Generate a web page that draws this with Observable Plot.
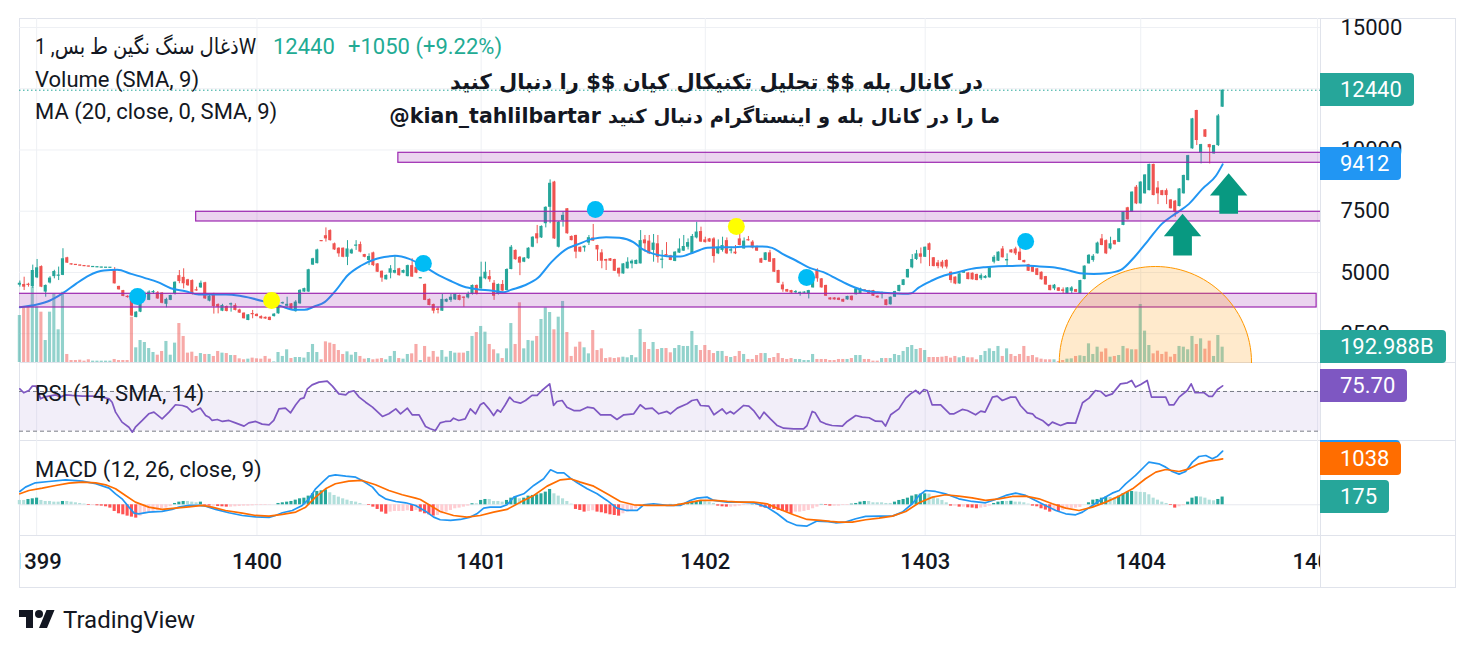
<!DOCTYPE html>
<html><head><meta charset="utf-8">
<script src="https://cdn.jsdelivr.net/npm/d3@7"></script>
<script src="https://cdn.jsdelivr.net/npm/@observablehq/plot@0.6"></script>
<style>
body{margin:0;background:#fff;}
#root{position:relative;width:1474px;height:653px;overflow:hidden;font-family:Roboto,"DejaVu Sans",sans-serif;color:#131722;}
.lbl{position:absolute;font-size:22px;line-height:26px;white-space:nowrap;}
.g{color:#22ab94;}
.badge{position:absolute;left:1320px;height:33px;line-height:33px;color:#fff;font-size:22px;padding:0 12px 0 20px;border-radius:0 4px 4px 0;overflow:hidden;}
.line{position:absolute;background:#e0e3eb;}
.note{position:absolute;font-family:"DejaVu Sans",sans-serif;font-weight:bold;font-size:21px;line-height:26px;white-space:nowrap;color:#131722;}
</style></head>
<body><div id="root"></div>
<script>
// ---------------- DATA ----------------
const ticker = "ذغال سنگ نگین ط بس, 1W";
// weekly candles [open, high, low, close]
const ohlc = [
[4480,4650,4400,4560],[4510,4807,4263,4400],[4520,4560,4400,4470],[4420,5300,4350,5080],[4780,5530,4750,5190],[5240,5270,4380,4400],[4200,4490,3990,4470],[4570,4830,4530,4770],[4830,5090,4740,5040],[4850,5220,4670,4890],
[4880,5970,4870,5560],[5600,5620,5370,5380],[5340,5345,5300,5320],[5315,5320,5285,5300],[5295,5300,5260,5270],[5270,5275,5240,5250],[5250,5255,5225,5235],[5215,5240,5210,5230],[5205,5225,5200,5220],[5195,5210,5190,5205],
[5190,5200,5185,5198],[5188,5198,5185,5195],[5110,5200,4530,4535],[4430,4440,4280,4290],[4260,4270,4010,4020],[4020,4050,3950,3980],[3990,4130,3200,3220],[3160,3400,3150,3380],[3380,3850,3360,3790],[4000,4200,3990,4100],
[3860,4250,3850,4200],[4180,4260,4100,4210],[4170,4220,3900,3920],[4160,4180,3720,3740],[3700,3950,3560,3900],[3860,4070,3850,4060],[4130,4620,4080,4600],[4870,5080,4540,4630],[4800,5150,4330,4540],[4700,4720,4430,4460],
[4670,4700,4080,4100],[4290,4400,4230,4250],[4370,4650,4350,4560],[4580,4600,3900,3920],[3830,4080,3800,4030],[4130,4150,3300,3610],[3690,3720,3310,3580],[3420,3700,3400,3650],[3610,3630,3390,3410],[3680,3750,3380,3720],
[3650,3720,3430,3450],[3470,3500,3330,3340],[3340,3350,3100,3110],[3040,3280,3030,3270],[3320,3450,3110,3280],[3290,3310,3190,3200],[3200,3230,3090,3110],[3170,3180,3090,3100],[3170,3180,3030,3040],[3200,3320,3180,3300],
[3310,3620,3300,3600],[3720,3790,3700,3770],[3620,3990,3580,3700],[3720,3730,3470,3480],[3400,3850,3380,3790],[3720,4300,3700,4270],[4200,4360,4190,4340],[4200,5130,4190,5110],[5300,5580,5290,5560],[5360,5950,5350,5920],
[6290,6300,6260,6270],[6500,6820,6240,6370],[6710,6740,6280,6300],[6170,6200,5900,5920],[5990,6010,5620,5760],[5990,6000,5600,5620],[5620,6300,5280,5960],[5760,5960,5740,5920],[6080,6300,5900,6110],[6140,6240,5800,5830],
[5730,5740,5600,5620],[5490,5760,5280,5650],[5800,5830,5240,5280],[5350,5360,5000,5010],[5050,5060,4600,4770],[4700,4900,4690,4880],[4970,5280,4740,5150],[4970,5650,4940,5080],[5150,5170,4850,4870],[4970,5100,4950,5080],
[4830,5300,4820,5280],[5280,5560,4800,4810],[5210,5230,4950,4970],[4750,4790,4740,4780],[4510,4530,3850,3860],[3900,3920,3640,3650],[3690,3710,3310,3420],[3510,3580,3310,3450],[3420,4100,3410,3900],[3790,3920,3770,3900],
[3860,4100,3780,3990],[3880,4120,3860,4100],[4060,4080,3840,3860],[3990,4000,3580,3950],[3960,4200,3920,4100],[4100,4490,4080,4470],[4470,4490,4080,4100],[4330,5420,4320,4810],[4740,5420,4700,5010],[4830,5080,4600,4700],
[4560,4670,3860,4030],[4100,4530,4080,4510],[4510,4670,4230,4240],[4260,5150,4250,5120],[5120,6100,5110,6030],[5900,5920,5500,5520],[5620,5650,4870,5380],[5420,5610,5400,5590],[5560,6010,5540,5990],[6030,6460,6010,6440],
[6580,6920,6170,6370],[6410,6900,6390,6880],[6990,7680,6820,7660],[7660,8780,6990,8640],[8690,8720,6350,6370],[6030,7080,6000,7050],[7120,7460,6850,7330],[7600,7610,6560,6580],[6470,6490,6290,6300],[6510,6520,5560,5830],
[6030,6040,5810,5830],[6000,6080,5830,6070],[6200,6510,6100,6420],[6410,6960,6270,6280],[6100,6110,5450,5920],[5800,5930,5150,5460],[5530,5540,5080,5460],[5560,5570,5450,5460],[5530,5540,5040,5050],[5170,5180,4810,4940],
[4940,5360,4930,5350],[5150,5600,5140,5420],[5350,5510,5150,5460],[5330,5510,5320,5490],[5350,6710,5350,6300],[6330,6510,5830,6170],[6280,6510,5730,5760],[5900,6550,5420,6200],[6170,6510,5380,5620],[5500,5900,5150,5540],
[5720,6220,5650,5690],[5680,5700,5480,5490],[5450,5850,5440,5830],[5790,6370,5780,5960],[5870,6510,5860,6060],[6030,6370,5920,6220],[5760,6550,5750,6470],[6410,7050,6370,6650],[6670,6850,6220,6240],[6330,6440,6200,6220],
[6370,6390,6230,6240],[6370,6420,5380,5650],[5760,6330,5730,6030],[5900,6440,5830,6100],[6300,6410,5730,5760],[5870,6030,5760,5930],[5830,6100,5730,5760],[6370,6580,6090,6100],[5960,6410,5950,6280],[6330,6470,6280,6300],
[6240,6300,5960,6000],[6060,6080,5860,5870],[5560,5580,5370,5380],[5490,5810,5480,5800],[5800,5900,5410,5420],[5560,5570,5000,5010],[5080,5090,4550,4560],[4490,4600,4190,4290],[4300,4310,4190,4200],[4260,4270,4150,4160],
[4180,4260,4130,4210],[4150,4200,4030,4180],[4160,4210,4140,4190],[4130,4270,3920,4260],[4370,4760,4360,4740],[5080,5150,4600,4740],[4740,4750,4360,4370],[4470,4480,4020,4030],[3960,3970,3870,3880],[3960,3970,3870,3880],
[3950,3960,3850,3860],[3900,3910,3780,3790],[3880,4030,3870,4020],[4030,4040,3830,3860],[4090,4350,4080,4330],[4130,4360,4110,4330],[4290,4300,4230,4240],[4260,4270,4120,4130],[4260,4270,4020,4030],[4030,4040,3950,3960],
[4100,4200,3920,4140],[3880,3890,3640,3650],[3680,4000,3670,3990],[3990,4230,3980,4220],[4220,4480,4210,4470],[4470,4710,4460,4700],[4780,5130,4770,5120],[5190,5730,5150,5530],[5530,5900,5490,5760],[5760,6000,5350,5620],
[5620,6040,5610,6030],[6170,6200,5240,5900],[5600,5610,5230,5240],[5390,5490,5150,5240],[5420,5490,5150,5220],[5490,5520,5140,5220],[5010,5020,4560,4670],[4810,4820,4500,4530],[4530,4950,4520,4940],[4970,5060,4960,5040],
[4980,4990,4700,4710],[4970,4980,4690,4700],[4920,4930,4660,4670],[4740,4940,4670,4870],[4760,4870,4740,4840],[4780,5200,4770,5190],[5420,5690,5350,5620],[5460,5840,5450,5830],[5960,6060,5590,5600],[5470,5760,5280,5530],
[5920,5930,5790,5800],[5960,6030,5690,5760],[5830,6060,5480,5490],[5490,5500,5390,5400],[5320,5330,5040,5050],[5220,5230,5000,5010],[5150,5160,4870,4880],[5010,5020,4690,4700],[4830,4840,4480,4490],[4470,4480,4250,4260],
[4330,4510,4260,4480],[4370,4380,4220,4230],[4290,4370,4130,4230],[4130,4380,4120,4370],[4230,4420,4130,4370],[4300,4310,4180,4190],[4130,4680,4120,4670],[4710,5270,4700,5260],[5350,5730,5340,5700],[5490,5730,5420,5660],
[5760,6240,5750,6200],[6370,6550,6090,6100],[6300,6330,5730,5760],[5960,6440,5920,6170],[6300,6310,6120,6130],[6230,6790,6220,6780],[6920,7470,6910,7460],[7640,7660,7140,7150],[7460,8290,7450,8280],[8480,8550,7770,7800],
[7800,8700,7790,8690],[8210,8990,8200,8980],[8340,9420,8330,9410],[9410,9420,8130,8140],[8450,8710,7770,8210],[8340,8350,8130,8140],[8340,8410,7770,8140],[7960,7970,7590,7600],[7910,7940,7250,7460],[7690,8420,7680,8410],
[8210,8970,8200,8960],[8750,9780,8740,9770],[10046,11290,10030,11271],[11611,11620,10180,10386],[9870,10230,9430,10220],[10822,10830,10510,10522],[10220,10230,9430,10090],[9840,10190,9830,10180],[10180,11450,10140,11390],[11747,12450,11740,12440]
];
// weekly volume, billions
const volume = [
592,697,697,949,697,634,277,634,865,412, 886,101,25,25,29,17,34,17,17,17, 17,17,38,25,25,25,571,185,277,252,
176,126,92,139,265,92,244,491,328,118, 130,76,113,101,101,76,139,118,113,88, 88,46,34,42,55,46,42,76,42,8,
126,76,160,50,63,63,55,126,227,126, 34,260,244,227,151,101,134,92,126,76, 42,50,34,42,50,34,76,139,50,42,
101,109,227,25,202,67,139,67,151,67, 139,118,118,118,139,328,378,454,382,227, 160,109,50,172,491,227,752,172,277,269,
328,542,689,630,412,571,769,378,76,193, 256,185,109,403,151,172,50,59,50,59, 67,59,88,59,416,252,164,252,164,176,
176,122,176,214,202,202,391,214,151,214, 151,113,139,139,76,63,76,139,101,38, 38,88,113,113,50,63,113,50,38,50,
38,38,25,25,101,38,38,38,25,25, 38,38,38,50,88,88,38,38,17,17, 50,50,50,101,88,139,189,214,164,176,
151,63,63,63,67,76,55,76,59,76, 59,59,34,88,139,172,139,202,76,172, 101,76,101,202,76,88,59,42,34,34,
34,13,25,42,46,76,84,76,235,101, 193,130,172,67,76,88,202,172,160,160, 731,395,214,109,143,101,130,67,101,202,
193,160,328,227,298,168,269,76,340,192.988
];
// MACD histogram per week
const hist = [
98,98,120,135,150,98,75,75,60,60, 75,75,60,45,30,15,-15,-15,-23,-30, -45,-75,-150,-203,-226,-256,-278,-301,-256,-203,
-165,-150,-128,-90,-75,-40,30,60,75,75, 60,45,60,-15,-30,-30,-38,-45,-53,-53, -45,-38,-30,-30,-23,-15,-15,-15,-8,0,
30,45,60,75,105,135,150,196,248,301, 316,338,271,211,173,135,105,75,60,30, 0,-15,-53,-105,-165,-211,-165,-150,-150,-150,
-135,-150,-128,-165,-203,-226,-256,-241,-203,-165, -128,-90,-75,-53,-30,23,23,98,120,120, 75,75,60,98,150,173,135,150,196,211,
226,248,286,346,248,196,135,75,15,-105, -128,-165,-150,-135,-165,-180,-203,-226,-241,-256, -203,-165,-128,-90,-53,-8,8,8,0,-8,
-8,8,8,15,23,30,60,75,98,75, 60,30,-30,-45,-53,-53,-45,-30,-15,-8, 8,-8,-53,-75,-90,-105,-128,-150,-165,-203,
-165,-165,-150,-128,-90,-53,8,-15,-30,-30, -30,-15,-15,15,30,60,75,75,45,45, 45,30,30,60,98,120,150,196,226,241,
248,241,173,135,98,45,-30,-30,-53,-53, -68,-75,-90,-75,-60,-30,30,60,75,75, 80,60,60,45,15,-30,-45,-90,-120,-165,
-135,-150,-128,-105,-90,-75,-60,0,45,105, 120,150,173,165,150,196,248,286,301,290, 280,275,226,150,105,60,30,-15,-75,-45,
-20,60,150,180,175,150,105,90,120,175
];
// MA (20, close, SMA 9) [week, value]
const maPts = [[0,3582],[4,3691],[7,3855],[10,4154],[13,4535],[16,4875],[19.5,5080],[22.6,5107],[25.8,4943],[28.9,4780],[32,4603],[35,4358],[38.4,4236],[41.5,4099],[44.7,4099],[47.8,4099],[51,4045],[54,3936],[57.3,3787],[60.4,3637],[63.6,3474],[66,3474],[68.3,3610],[70.7,3787],[73.4,4290],[76,4875],[79.2,5284],[82.4,5542],[85.5,5651],[87,5678],[90.3,5556],[93.4,5284],[96.6,4943],[99.7,4671],[102.9,4426],[106,4317],[109.2,4263],[112.3,4195],[113.9,4290],[117,4467],[120.2,4780],[123.3,5420],[126.5,5923],[129.7,6168],[132.8,6372],[136,6440],[139.1,6413],[142.3,6236],[144.3,5964],[147,5760],[150.1,5665],[153.2,5651],[156.4,5828],[159.5,6005],[162.7,6032],[165.9,6032],[169,6059],[172.2,6059],[174.5,6005],[176.9,5760],[180,5488],[183.2,5188],[186.4,5011],[189.5,4739],[192.6,4467],[195.8,4263],[199,4195],[202.1,4154],[205.3,4127],[206.8,4154],[208.4,4372],[211.6,4671],[214.4,4874],[217.6,5010],[220.7,5146],[223.9,5215],[227,5255],[230.2,5269],[233.3,5282],[236.5,5242],[239.6,5215],[242.8,5106],[245.9,4970],[249.1,4942],[252.2,4970],[255.4,5106],[258.5,5623],[261.7,6303],[264.9,6984],[268,7392],[271.2,7800],[274.3,8413],[277.5,8957],[279,9412]];
// RSI (14, SMA 14) [week, value]
const rsiPts = [[0,72.7],[0.9,68.7],[2.1,71.0],[2.9,75.4],[3.8,75.4],[4.8,62.6],[5.6,64.3],[6.7,65.3],[8.3,66.6],[9.4,64.3],[10.6,66.6],[12.1,66.0],[14.5,65.3],[16.8,65.3],[19.1,64.3],[20.7,62.6],[21.4,59.2],[22.2,49.2],[23.7,39.1],[25.3,34.0],[26.1,29.0],[26.8,34.0],[28.4,40.8],[29.9,47.5],[31.1,49.2],[33.0,42.4],[34.6,49.2],[36.1,56.6],[37.7,55.9],[38.8,54.2],[40.0,49.2],[41.1,51.9],[41.9,53.2],[43.1,45.8],[43.9,44.1],[44.6,40.8],[45.8,41.8],[47.0,39.8],[48.5,40.8],[50.0,38.4],[52.0,35.1],[53.1,38.4],[54.7,39.8],[56.2,37.1],[57.8,36.4],[58.9,40.8],[60.1,52.5],[61.6,53.2],[62.8,48.5],[64.0,56.6],[65.1,62.6],[65.9,63.6],[66.7,72.7],[67.8,76.7],[69.4,79.4],[71.3,80.4],[72.5,75.4],[74.0,67.6],[75.6,66.6],[76.3,69.3],[77.5,70.7],[78.7,64.3],[80.2,59.2],[81.8,54.2],[84.1,44.8],[85.6,47.5],[87.2,52.5],[88.3,47.5],[89.9,53.2],[91.0,46.5],[92.6,46.5],[94.1,34.7],[95.2,32.4],[96.4,30.7],[97.5,38.4],[98.7,39.8],[99.9,40.1],[100.6,43.1],[101.8,40.8],[103.3,42.4],[104.5,52.5],[105.7,47.5],[106.8,56.6],[107.6,58.6],[108.8,52.5],[109.9,45.8],[110.8,51.5],[111.5,49.2],[112.6,56.6],[113.6,64.3],[114.6,59.9],[116.1,58.2],[117.3,60.9],[118.8,66.0],[120.0,66.0],[121.1,71.0],[122.9,77.7],[123.8,55.9],[124.6,59.9],[125.8,60.9],[126.9,54.2],[128.5,50.8],[130.0,50.8],[131.6,54.2],[133.1,53.2],[134.7,46.5],[137.0,46.5],[138.5,41.8],[140.1,46.5],[142.4,47.5],[143.9,56.6],[145.1,52.5],[146.7,53.2],[148.2,47.5],[150.1,49.9],[150.9,47.5],[152.5,53.2],[154.8,57.6],[155.9,60.9],[157.1,61.9],[157.9,55.9],[159.8,55.2],[161.0,46.5],[162.9,52.5],[163.9,47.5],[164.8,49.9],[165.6,47.5],[167.9,55.9],[169.1,55.2],[170.2,50.8],[171.6,42.4],[172.6,49.2],[174.1,42.4],[175.7,35.7],[177.2,33.0],[179.5,32.4],[181.8,32.4],[182.6,35.7],[183.8,49.9],[184.5,48.5],[185.7,39.8],[186.9,37.4],[188.4,35.7],[190.8,35.1],[191.9,39.8],[193.9,45.8],[195.4,44.1],[197.0,43.5],[198.5,40.1],[200.0,39.8],[200.8,35.1],[202.0,46.5],[203.9,52.5],[205.5,63.3],[206.6,67.6],[207.8,71.0],[208.7,67.6],[209.7,72.0],[210.5,71.0],[211.6,56.6],[213.6,56.6],[215.7,47.5],[216.7,47.5],[218.6,51.9],[219.8,50.8],[221.7,46.5],[222.9,50.2],[223.9,49.2],[225.6,64.3],[226.7,65.3],[227.9,60.9],[229.8,64.3],[231.0,64.3],[232.1,55.9],[233.7,48.5],[234.9,47.5],[235.6,44.1],[237.2,40.8],[238.6,35.7],[239.5,39.1],[241.4,35.7],[243.0,38.4],[244.9,38.1],[246.5,58.6],[248.0,63.3],[249.5,71.0],[250.7,70.0],[251.9,65.3],[253.4,67.6],[255.3,77.7],[256.9,78.7],[257.9,81.1],[258.8,74.4],[260.0,77.1],[261.5,81.1],[262.5,64.3],[264.2,64.3],[265.8,64.3],[266.6,56.6],[267.7,56.6],[268.9,64.3],[270.8,71.0],[271.7,77.7],[272.6,68.7],[274.7,68.7],[275.8,65.0],[276.6,65.0],[277.8,72.0],[279,75.70]];
// MACD line [week, value]
const macdPts = [[0,301],[1.3,399],[3.6,496],[6.7,526],[10.6,564],[14.5,534],[17.6,474],[20.7,376],[22.2,248],[23.7,135],[25.3,-53],[26.5,-188],[27.6,-203],[29.9,-165],[33.0,-150],[35.3,-105],[36.9,-53],[39.2,-15],[41.5,-15],[43.1,-30],[45.4,-105],[48.5,-180],[51.6,-241],[54.7,-271],[57.8,-286],[59.3,-241],[60.9,-180],[63.2,-128],[65.5,-15],[67.1,135],[68.6,361],[70.2,511],[71.7,647],[73.2,677],[75.6,647],[77.9,624],[79.4,549],[81.8,399],[83.3,226],[84.8,135],[87.2,75],[89.5,45],[91.8,-15],[94.4,-165],[96.0,-278],[97.5,-338],[99.9,-353],[102.2,-331],[104.5,-278],[106.0,-203],[107.6,-75],[109.1,-53],[111.5,-53],[113.0,0],[114.6,173],[116.9,248],[119.2,436],[121.5,587],[123.1,790],[124.6,722],[126.2,722],[127.7,602],[129.3,496],[131.6,361],[133.9,248],[136.2,98],[138.5,-75],[140.8,-128],[143.2,-128],[144.7,0],[147.0,23],[150.1,-15],[153.2,-15],[155.5,98],[157.1,150],[159.4,173],[161.0,98],[164.1,60],[167.1,60],[170.2,45],[173.3,-53],[175.7,-203],[178.0,-376],[180.3,-466],[182.6,-481],[184.9,-368],[187.5,-380],[189.2,-406],[191.5,-391],[193.9,-316],[196.2,-263],[199.3,-256],[202.4,-256],[204.7,-165],[207.0,23],[208.6,211],[210.1,323],[212.4,301],[214.7,248],[217.8,135],[220.9,75],[224.0,45],[226.3,120],[228.7,211],[231.0,263],[233.3,211],[235.6,98],[237.9,-15],[240.3,-128],[242.6,-203],[244.9,-226],[246.5,-165],[248.8,-15],[251.1,135],[253.4,263],[255.0,323],[256.5,474],[258.8,662],[261.1,887],[261.9,963],[264.2,925],[265.8,850],[267.3,752],[268.9,692],[270.4,752],[272.0,963],[273.5,1090],[275.1,1113],[276.6,1038],[277.8,1098],[279,1213]];
// MACD signal [week, value]
const signalPts = [[0,248],[2.1,323],[5.2,376],[8.3,436],[11.4,489],[14.5,511],[17.6,496],[19.9,451],[22.2,361],[24.5,211],[26.8,60],[29.9,-53],[33.0,-105],[36.1,-75],[39.2,-45],[42.3,-15],[44.6,-53],[47.7,-128],[51.6,-188],[54.7,-241],[57.8,-256],[60.9,-218],[64.0,-165],[66.3,-53],[68.6,173],[70.9,361],[73.2,474],[76.3,534],[79.4,549],[82.5,451],[85.6,323],[88.7,226],[91.8,150],[92.9,120],[95.2,-15],[97.5,-150],[100.6,-241],[103.7,-278],[106.8,-241],[109.9,-165],[113.0,-105],[116.1,60],[119.2,211],[122.3,421],[125.4,564],[127.7,587],[130.0,511],[133.1,421],[136.2,248],[139.3,75],[142.4,0],[145.5,-15],[148.6,-15],[151.7,-15],[154.8,45],[157.9,98],[161.0,98],[164.1,75],[167.1,60],[170.2,60],[173.3,23],[176.4,-105],[179.5,-226],[182.6,-331],[185.7,-353],[188.0,-376],[190.0,-391],[193.1,-391],[196.2,-338],[199.3,-301],[202.4,-256],[205.5,-150],[208.6,45],[211.7,173],[214.7,226],[217.8,196],[220.9,158],[224.0,98],[227.1,135],[230.2,188],[233.3,196],[236.4,135],[239.5,23],[242.6,-75],[245.7,-128],[248.8,-53],[251.9,60],[255.0,196],[258.1,361],[261.1,587],[263.5,737],[265.8,797],[268.9,752],[271.2,812],[273.5,925],[275.8,985],[277.8,1015],[279,1038]];
// drawings
const boxes = [{w1:87.8,w2:306,p1:9477,p2:9885},{w1:40.9,w2:306,p1:7081,p2:7477},{w1:-1,w2:300.8,p1:3570,p2:4129}];
const markers = [{w:27.3,p:4019,kind:"blue"},{w:58.4,p:3856,kind:"yellow"},{w:93.6,p:5366,kind:"blue"},{w:133.5,p:7571,kind:"blue"},{w:166.2,p:6877,kind:"yellow"},{w:182.5,p:4795,kind:"blue"},{w:233.3,p:6264,kind:"blue"}];
const arrows = [{w:269.7,tip:7395,base:6481,bottom:5693},{w:280.4,tip:9052,base:8142,bottom:7395}];
const halfCircle = {w:263.4,p:1325,top:5244,halfWidthWeeks:22.3};
const yearTicks = [{w:3.9,label:"1399"},{w:55,label:"1400"},{w:107,label:"1401"},{w:159,label:"1402"},{w:210,label:"1403"},{w:260,label:"1404"},{w:301,label:"1405"}];
const priceTicks = [2500,5000,7500,10000,12500,15000];
const priceLabels = [2500,5000,7500,10000,15000];
const xView = [-0.08, 301.7];
const noteLine1 = "در کانال بله $$ تحلیل تکنیکال کیان $$ را دنبال کنید";
const noteHandle = "@kian_tahlilbartar";
const noteLine2 = "ما را در کانال بله و اینستاگرام دنبال کنید";

// ---------------- DRAW ----------------
const root = document.getElementById("root");
const UP = "#26a69a", DN = "#ef5350";
const bars = ohlc.map(([o,h,l,c],i)=>({i,o,h,l,c,up:c>=o,v:volume[i]}));
const bLo = d=>{const lo=Math.min(d.o,d.c),hi=Math.max(d.o,d.c);return hi-lo<50?(lo+hi)/2-25:lo;};
const bHi = d=>{const lo=Math.min(d.o,d.c),hi=Math.max(d.o,d.c);return hi-lo<50?(lo+hi)/2+25:hi;};
const BW = 0.36;

const panes = {main:{top:18,h:345,y:[1284,15367]}, rsi:{top:363,h:77,y:[20.6,98.2]}, macd:{top:440,h:95,y:[-693,1451]}};
function fig(h, yDomain, marks, mb=0){
  return Plot.plot({width:1474,height:h,marginLeft:19,marginRight:154,marginTop:0,marginBottom:mb,
    x:{domain:xView,axis:null}, y:{domain:yDomain,axis:null},
    style:{background:"transparent",fontFamily:"Roboto, sans-serif",fontSize:"22px",color:"#131722",overflow:"visible"},
    marks});
}
function put(node, top){ node.style.position="absolute"; node.style.left="0px"; node.style.top=top+"px"; root.appendChild(node); return node; }
function div(cls, html, css){ const d=document.createElement("div"); d.className=cls; d.innerHTML=html; Object.assign(d.style,css); root.appendChild(d); return d; }

const GRID = "#eef0f4";
const yearW = yearTicks.map(d=>d.w);

// frame lines
div("line","",{left:"19px",top:"18px",width:"1436px",height:"1px"});
div("line","",{left:"19px",top:"587px",width:"1436px",height:"1px"});
div("line","",{left:"19px",top:"18px",width:"1px",height:"570px"});
div("line","",{left:"1455px",top:"18px",width:"1px",height:"570px"});
div("line","",{left:"1320px",top:"18px",width:"1px",height:"570px"});
div("line","",{left:"19px",top:"362px",width:"1436px",height:"1px"});
div("line","",{left:"19px",top:"440px",width:"1436px",height:"1px"});
div("line","",{left:"19px",top:"535px",width:"1436px",height:"1px"});

// main pane: grid
put(fig(panes.main.h, panes.main.y, [
  Plot.ruleY(priceTicks,{stroke:GRID}),
  Plot.ruleX(yearW,{stroke:GRID})
]), panes.main.top);

// volume overlay
put(fig(panes.main.h, [0, 344*12.6], [
  Plot.rect(bars.filter(d=>d.up),{x1:d=>d.i-BW,x2:d=>d.i+BW,y1:0,y2:"v",fill:"rgba(38,166,154,0.5)"}),
  Plot.rect(bars.filter(d=>!d.up),{x1:d=>d.i-BW,x2:d=>d.i+BW,y1:0,y2:"v",fill:"rgba(239,83,80,0.5)"})
], 1), panes.main.top);

// main pane: price
const last = bars[bars.length-1];
const prev = bars[bars.length-2];
const ci = halfCircle, rp = ci.top - ci.p;
const circlePts = d3.range(0, 2*Math.PI+0.01, Math.PI/60).map(t=>[ci.w + ci.halfWidthWeeks*Math.cos(t), ci.p + rp*Math.sin(t)]);
const HW = 4.34, SW = 2.17;
const arrowPolys = arrows.map(a=>[[a.w,a.tip],[a.w+HW,a.base],[a.w+SW,a.base],[a.w+SW,a.bottom],[a.w-SW,a.bottom],[a.w-SW,a.base],[a.w-HW,a.base],[a.w,a.tip]]);
const mainFig = fig(panes.main.h, panes.main.y, [
  Plot.ruleX(bars.filter(d=>d.up),{x:"i",y1:"l",y2:"h",stroke:UP,strokeWidth:1}),
  Plot.ruleX(bars.filter(d=>!d.up),{x:"i",y1:"l",y2:"h",stroke:DN,strokeWidth:1}),
  Plot.rect(bars.filter(d=>d.up),{x1:d=>d.i-BW,x2:d=>d.i+BW,y1:bLo,y2:bHi,fill:UP}),
  Plot.rect(bars.filter(d=>!d.up),{x1:d=>d.i-BW,x2:d=>d.i+BW,y1:bLo,y2:bHi,fill:DN}),
  Plot.line(maPts,{x:d=>d[0],y:d=>d[1],stroke:"#2196f3",strokeWidth:2,curve:"monotone-x"}),
  Plot.ruleY([last.c],{stroke:"#26a69a",strokeDasharray:"1.5 2.5",strokeWidth:1}),
  Plot.rect(boxes,{x1:"w1",x2:"w2",y1:"p1",y2:"p2",fill:"rgba(156,39,176,0.2)",stroke:"#9c27b0",strokeWidth:1.2,clip:true}),
  Plot.dot(markers.filter(d=>d.kind==="blue"),{x:"w",y:"p",r:8.5,fill:"#00bcf5",stroke:"none"}),
  Plot.dot(markers.filter(d=>d.kind==="yellow"),{x:"w",y:"p",r:8.5,fill:"#ffff00",stroke:"none"}),
  ...arrowPolys.map(poly=>Plot.line(poly,{x:d=>d[0],y:d=>d[1],fill:"#089981",stroke:"none",curve:"linear"})),
  Plot.line(circlePts,{x:d=>d[0],y:d=>d[1],fill:"rgba(255,152,0,0.2)",stroke:"#ff9800",strokeWidth:1,clip:true}),
  Plot.text(priceLabels,{x:xView[1],y:d=>d,text:d=>String(d),dx:20,textAnchor:"start",fontSize:22,fill:"#131722"})
]);
put(mainFig, panes.main.top);

// RSI pane
const rsiFig = fig(panes.rsi.h, panes.rsi.y, [
  Plot.ruleX(yearW,{stroke:GRID}),
  Plot.rect([0],{x1:xView[0],x2:xView[1],y1:30,y2:70,fill:"rgba(126,87,194,0.1)"}),
  Plot.ruleY([30,70],{stroke:"#787b86",strokeDasharray:"4 3",strokeWidth:1}),
  Plot.line(rsiPts,{x:d=>d[0],y:d=>d[1],stroke:"#7e57c2",strokeWidth:1.7})
]);
put(rsiFig, panes.rsi.top);

// MACD pane
const hbars = hist.map((v,i)=>({i,v,prev:i?hist[i-1]:v}));
const hcol = d=> d.v>=0 ? (d.v>d.prev?"#26a69a":"#b2dfdb") : (d.v<d.prev?"#ff5252":"#ffcdd2");
const macdFig = fig(panes.macd.h, panes.macd.y, [
  Plot.ruleX(yearW,{stroke:GRID}),
  Plot.ruleY([0],{stroke:"#e6e8ee"}),
  ...["#26a69a","#b2dfdb","#ff5252","#ffcdd2"].map(col=>Plot.rect(hbars.filter(d=>hcol(d)===col),{x1:d=>d.i-BW,x2:d=>d.i+BW,y1:0,y2:"v",fill:col})),
  Plot.line(macdPts,{x:d=>d[0],y:d=>d[1],stroke:"#2196f3",strokeWidth:1.7}),
  Plot.line(signalPts,{x:d=>d[0],y:d=>d[1],stroke:"#ff6d00",strokeWidth:1.7})
]);
put(macdFig, panes.macd.top);

// x axis
const axisFig = fig(52, [0,1], [
  Plot.text(yearTicks,{x:"w",text:"label",frameAnchor:"middle",fontSize:22,fontWeight:500,fill:"#131722"})
]);
put(axisFig, 535);
axisFig.style.clipPath = "inset(0px 154px 0px 20px)";

// badges
function badge(text, bg, pane, value, yOf){
  const yc = pane.top + yOf(value);
  let top = yc - 16.5, h = 33;
  if (top < pane.top) { h -= (pane.top - top); top = pane.top; }
  return div("badge", text, {top: top+"px", height: h+"px", background: bg});
}
const yMain = v=>mainFig.scale("y").apply(v);
const yVol = v=>panes.main.h-1-v/12.6;
const yRsi = v=>rsiFig.scale("y").apply(v);
const yMacd = v=>macdFig.scale("y").apply(v);
badge(String(last.c), "#26a69a", panes.main, last.c, yMain);
badge(String(maPts[maPts.length-1][1]), "#2196f3", panes.main, maPts[maPts.length-1][1], yMain);
badge(last.v.toFixed(3)+"B", "#26a69a", panes.main, last.v, yVol);
badge(rsiPts[rsiPts.length-1][1].toFixed(2), "#7e57c2", panes.rsi, rsiPts[rsiPts.length-1][1], yRsi);
const hiddenMacd = badge("", "#2196f3", panes.macd, macdPts[macdPts.length-1][1], yMacd);
hiddenMacd.style.width = "48px";
badge(String(signalPts[signalPts.length-1][1]), "#ff6d00", panes.macd, signalPts[signalPts.length-1][1], yMacd);
badge(String(hist[hist.length-1]), "#26a69a", panes.macd, hist[hist.length-1], yMacd);

// legends
const chg = last.c - prev.c;
div("lbl", `<span dir="ltr">${ticker}</span>`, {left:"35px", top:"34px", transform:"scaleX(0.89)", transformOrigin:"0 50%"});
div("lbl g", String(last.c), {left:"273px", top:"34px"});
div("lbl g", `+${chg} (+${(chg/prev.c*100).toFixed(2)}%)`, {left:"348px", top:"34px"});
div("lbl", "Volume (SMA, 9)", {left:"35px", top:"67px"});
div("lbl", "MA (20, close, 0, SMA, 9)", {left:"35px", top:"99px"});
div("lbl", "RSI (14, SMA, 14)", {left:"35px", top:"381px"});
div("lbl", "MACD (12, 26, close, 9)", {left:"35px", top:"457px"});

// notes
div("note", `<span dir="rtl">${noteLine1}</span>`, {right:(1474-983)+"px", top:"69px", direction:"rtl"});
div("note", `<span style="font-size:20.5px">${noteHandle}</span> <span dir="rtl" style="font-size:19.5px">${noteLine2}</span>`, {right:(1474-1000)+"px", top:"103px", direction:"ltr"});

// TradingView logo
div("", `<svg width="36" height="28" viewBox="0 0 36 28"><path fill="#131722" d="M14 22H7V11H0V4h14v18zM28 22h-8l7.5-18h8L28 22z"/><circle fill="#131722" cx="20" cy="8" r="4"/></svg>`, {position:"absolute", left:"19px", top:"606px"});
div("lbl", "TradingView", {left:"63px", top:"606px", fontSize:"24px", lineHeight:"28px"});
</script>
</body></html>
